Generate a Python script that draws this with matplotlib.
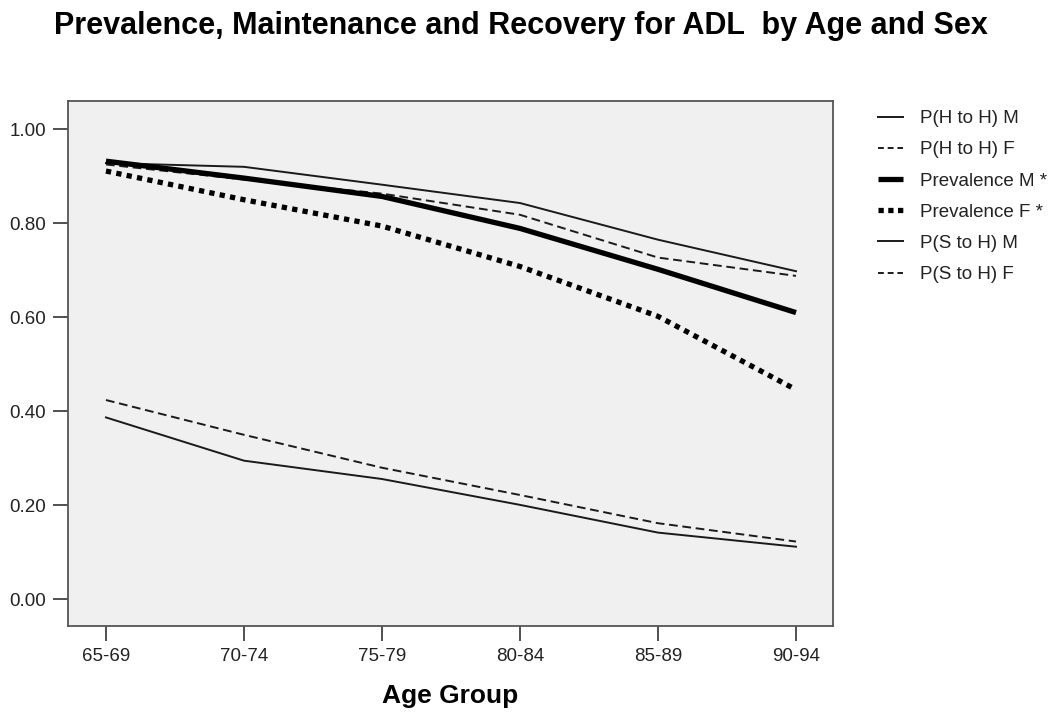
import matplotlib
matplotlib.use("Agg")
import matplotlib.pyplot as plt
from matplotlib.lines import Line2D
import numpy as np

plt.rcParams['font.family'] = ['Liberation Sans', 'DejaVu Sans']

age_groups = ["65-69", "70-74", "75-79", "80-84", "85-89", "90-94"]
p_hh_m = [0.928, 0.920, 0.882, 0.843, 0.765, 0.698]
p_hh_f = [0.925, 0.893, 0.863, 0.818, 0.727, 0.688]
prev_m = [0.932, 0.896, 0.857, 0.789, 0.702, 0.610]
prev_f = [0.911, 0.850, 0.794, 0.708, 0.602, 0.446]
p_sh_m = [0.387, 0.295, 0.256, 0.201, 0.142, 0.112]
p_sh_f = [0.424, 0.350, 0.280, 0.222, 0.162, 0.123]
y_ticks = [0.0, 0.2, 0.4, 0.6, 0.8, 1.0]
labels = ['P(H to H) M', 'P(H to H) F', 'Prevalence M *', 'Prevalence F *',
          'P(S to H) M', 'P(S to H) F']

fig = plt.figure(figsize=(10.6, 7.13), dpi=100)
ax = fig.add_axes([68/1060, 1-625.7/713, (833-68)/1060, (625.7-101)/713])
ax.set_facecolor('#F0F0F0')

x = np.arange(len(age_groups))
col = '#1a1a1a'
dash = (0, (4.5, 2.4))
thin = dict(color=col, lw=1.4)
thick = dict(color='black', lw=3.8)
ax.plot(x, p_hh_m, ls='-', **thin)
ax.plot(x, p_hh_f, ls=dash, **thin)
ax.plot(x, prev_m, ls='-', solid_capstyle='butt', **thick)
ax.plot(x, prev_f, ls=(0, (1, 1)), dash_capstyle='butt', **thick)
ax.plot(x, p_sh_m, ls='-', **thin)
ax.plot(x, p_sh_f, ls=dash, **thin)

ldash = (0, (3.0, 2.0))
handles = [
    Line2D([], [], ls='-', **thin),
    Line2D([], [], ls=ldash, dash_capstyle='butt', **thin),
    Line2D([], [], ls='-', solid_capstyle='butt', **thick),
    Line2D([], [], ls=(0, (1, 0.85)), dash_capstyle='butt', **thick),
    Line2D([], [], ls='-', **thin),
    Line2D([], [], ls=ldash, dash_capstyle='butt', **thin),
]

ax.set_xlim(-0.275, 5.268)
ax.set_ylim(-0.056, 1.060)
ax.set_xticks(x)
ax.set_xticklabels(age_groups)
ax.set_yticks(y_ticks)
ax.set_yticklabels([f"{v:.2f}" for v in y_ticks])
ax.tick_params(axis='both', length=11, width=1.2, color='#333333', labelsize=13.5,
               labelcolor='#222222', pad=5)
for s in ax.spines.values():
    s.set_color('#555555')
    s.set_linewidth(1.3)

ax.set_xlabel('Age Group', fontsize=19, fontweight='bold', labelpad=14)

fig.text(521/1060, 1-26/713, 'Prevalence, Maintenance and Recovery for ADL  by Age and Sex',
         ha='center', va='center', fontsize=22, fontweight='bold')

leg = fig.legend(handles, labels, loc='upper left', bbox_to_anchor=(878/1060, 1-110/713),
                 frameon=False, fontsize=13.5, handlelength=1.33, handletextpad=0.9,
                 labelspacing=0.75, borderpad=0, borderaxespad=0)
for t in leg.get_texts():
    t.set_color('#222222')

fig.savefig('out.png', dpi=100)
